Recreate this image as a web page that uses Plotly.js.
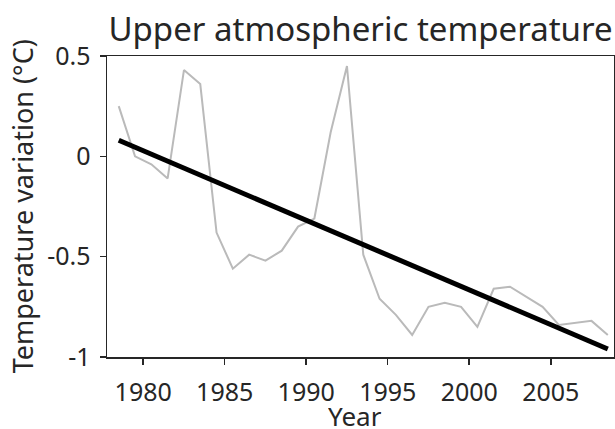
<!DOCTYPE html>
<html>
<head>
<meta charset="utf-8">
<script src="https://cdn.plot.ly/plotly-3.0.1.min.js"></script>
<style>html,body{margin:0;padding:0;background:#fff;}#chart{width:615px;height:429px;}</style>
</head>
<body>
<div id="chart"></div>
<script>
const years = [1978.5,1979.5,1980.5,1981.5,1982.5,1983.5,1984.5,1985.5,1986.5,1987.5,1988.5,1989.5,1990.5,1991.5,1992.5,1993.5,1994.5,1995.5,1996.5,1997.5,1998.5,1999.5,2000.5,2001.5,2002.5,2003.5,2004.5,2005.5,2006.5,2007.5,2008.5];
const tempVariation = [0.25,0.0,-0.04,-0.11,0.43,0.36,-0.38,-0.56,-0.49,-0.52,-0.47,-0.35,-0.31,0.12,0.45,-0.49,-0.71,-0.79,-0.89,-0.75,-0.73,-0.75,-0.85,-0.66,-0.65,-0.70,-0.75,-0.84,-0.83,-0.82,-0.89];
const trendYears = [1978.5, 2008.5];
const trendValues = [0.08, -0.96];
const xTickVals = [1980,1985,1990,1995,2000,2005];
const yTickVals = [-1,-0.5,0,0.5];
const yTickText = ['-1','-0.5','0','0.5'];
const titleText = 'Upper atmospheric temperature';
const xTitle = 'Year';
const yTitle = 'Temperature variation (°C)';

const font = 'Noto Sans, Open Sans, sans-serif';
const ink = '#262626';
const traces = [
  {x: years, y: tempVariation, type: 'scatter', mode: 'lines',
   line: {color: '#bababa', width: 2}, hoverinfo: 'skip'},
  {x: trendYears, y: trendValues, type: 'scatter', mode: 'lines',
   line: {color: '#000000', width: 5}, hoverinfo: 'skip'}
];
const layout = {
  width: 615, height: 429,
  margin: {l: 107, r: 1, t: 56, b: 72},
  paper_bgcolor: '#fff', plot_bgcolor: '#fff',
  showlegend: false,
  font: {family: font, color: ink, size: 25},
  title: {text: titleText, font: {family: font, size: 33, color: ink},
          x: 0.5, xref: 'paper', xanchor: 'center', y: 0.932, yref: 'container', yanchor: 'middle'},
  xaxis: {
    range: [1977.78, 2008.88], tickvals: xTickVals, ticktext: xTickVals.map(String),
    ticks: 'outside', ticklen: 6, tickwidth: 1.5, tickcolor: ink,
    showline: true, linecolor: ink, linewidth: 1.5, mirror: true,
    showgrid: false, zeroline: false, ticklabelstandoff: 6,
    tickfont: {family: font, size: 25, color: ink}
  },
  yaxis: {
    range: [-1, 0.5], tickvals: yTickVals, ticktext: yTickText,
    ticks: 'outside', ticklen: 6, tickwidth: 1.5, tickcolor: ink,
    showline: true, linecolor: ink, linewidth: 1.5, mirror: true,
    showgrid: false, zeroline: false, ticklabelstandoff: 4,
    tickfont: {family: font, size: 25, color: ink}
  },
  annotations: [
    {text: xTitle, xref: 'paper', x: 0.49, yref: 'paper', y: -0.197, xanchor: 'center', yanchor: 'middle',
     height: 26, valign: 'middle',
     showarrow: false, font: {family: font, size: 26, color: ink}},
    {text: yTitle, xref: 'paper', x: -0.166, yref: 'paper', y: 0.5, xanchor: 'center', yanchor: 'middle',
     textangle: -90, showarrow: false, font: {family: font, size: 27, color: ink}}
  ]
};
Plotly.newPlot('chart', traces, layout, {staticPlot: true, displayModeBar: false});
</script>
</body>
</html>
